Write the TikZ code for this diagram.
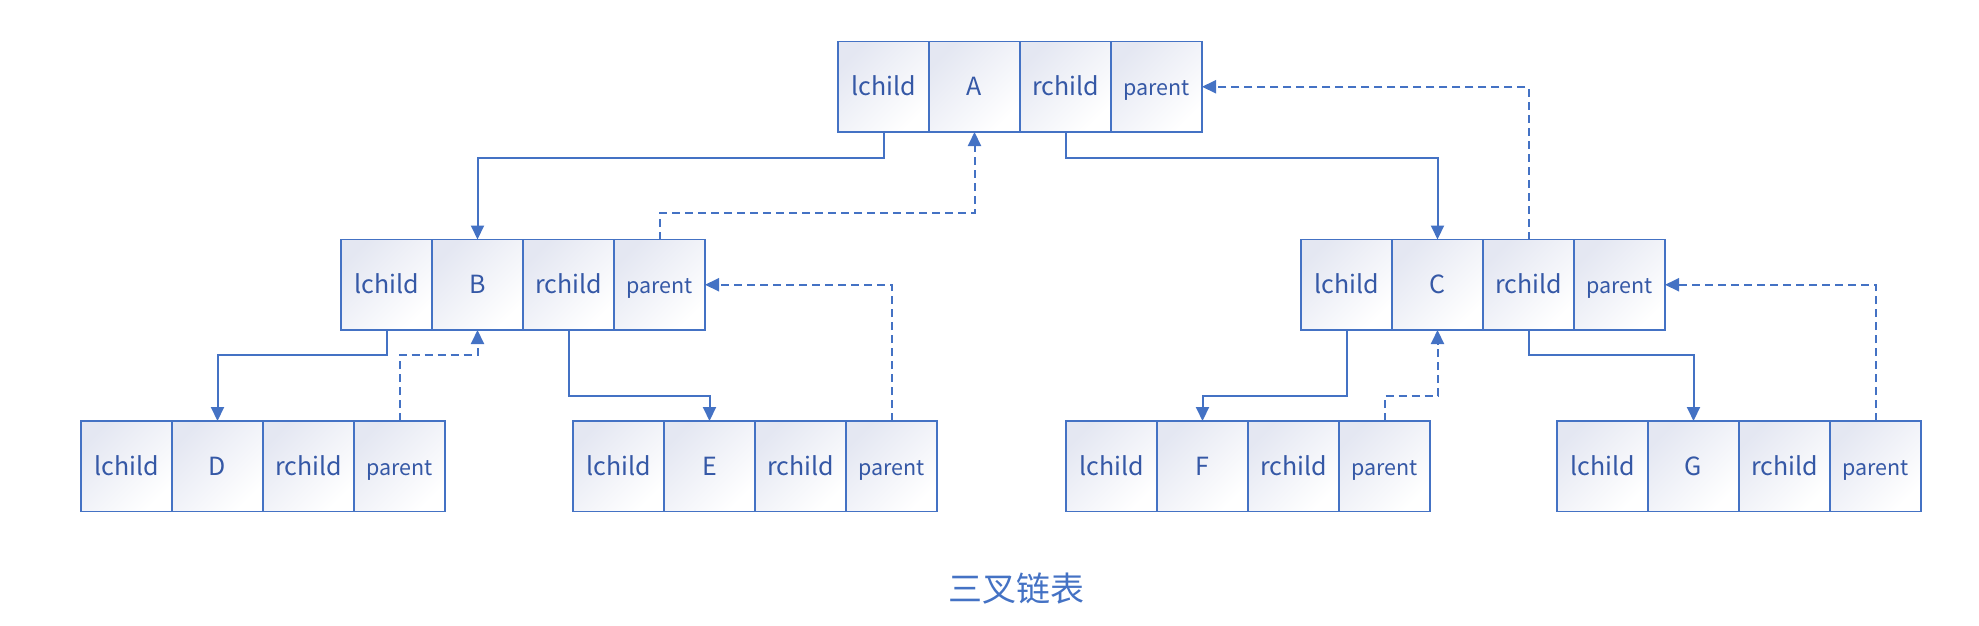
\documentclass[tikz,border=0pt]{standalone}
\usepackage{fontspec}
\setmainfont{Noto Sans CJK SC}
\usetikzlibrary{arrows.meta}
\definecolor{lineblue}{HTML}{4472C4}
\definecolor{textblue}{HTML}{3558A6}
\definecolor{cellgray}{HTML}{E4E7F2}
\tikzset{
  cell/.style={draw=lineblue, line width=1.3pt, minimum width=91pt, minimum height=90.5pt,
    inner sep=0pt, outer sep=0pt, anchor=north west, top color=cellgray, bottom color=white,
    shading angle=45, text=textblue, font=\fontsize{25}{28}\selectfont,
    text height=18pt, text depth=0pt},
  pcell/.style={cell, font=\fontsize{21.5}{26}\selectfont},
  conn/.style={draw=lineblue, line width=2pt, -{Triangle[length=14pt,width=13pt]}},
  back/.style={conn, dash pattern=on 8pt off 5pt},
  title/.style={text=lineblue, font=\fontsize{34}{40}\selectfont}
}
\newcommand\record[4]{%
  \node[cell] (#1-l) at (#2,#3) {lchild};
  \node[cell] (#1-d) at (#1-l.north east) {#4};
  \node[cell] (#1-r) at (#1-d.north east) {rchild};
  \node[pcell] (#1-p) at (#1-r.north east) {parent};
}
\begin{document}
\begin{tikzpicture}[x=1pt,y=-1pt]
\useasboundingbox (0,0) rectangle (1979,625);
\record{A}{838}{41.5}{A}
\record{B}{341}{239.5}{B}
\record{C}{1301}{239.5}{C}
\record{D}{81}{421}{D}
\record{E}{573}{421}{E}
\record{F}{1066}{421}{F}
\record{G}{1557}{421}{G}
% child links
\draw[conn] (A-l.south) -- (A-l.south |- 0,158) -| (B-d.north);
\draw[conn] (A-r.south) -- (A-r.south |- 0,158) -| (C-d.north);
\draw[conn] (B-l.south) -- (B-l.south |- 0,355) -| (D-d.north);
\draw[conn] (B-r.south) -- (B-r.south |- 0,396) -| (E-d.north);
\draw[conn] (C-l.south) -- (C-l.south |- 0,396) -| (F-d.north);
\draw[conn] (C-r.south) -- (C-r.south |- 0,355) -| (G-d.north);
% parent links
\draw[back] (B-p.north) -- (B-p.north |- 0,213) -| (A-d.south);
\draw[back] (C-r.north) |- (A-p.east);
\draw[back] (D-p.north) -- (D-p.north |- 0,355) -| (B-d.south);
\draw[back] (E-p.north) |- (B-p.east);
\draw[back] (F-p.north) -- (F-p.north |- 0,396) -| (C-d.south);
\draw[back] (G-p.north) |- (C-p.east);
\node[title] (title) at (1016,589) {三叉链表};
\end{tikzpicture}
\end{document}
